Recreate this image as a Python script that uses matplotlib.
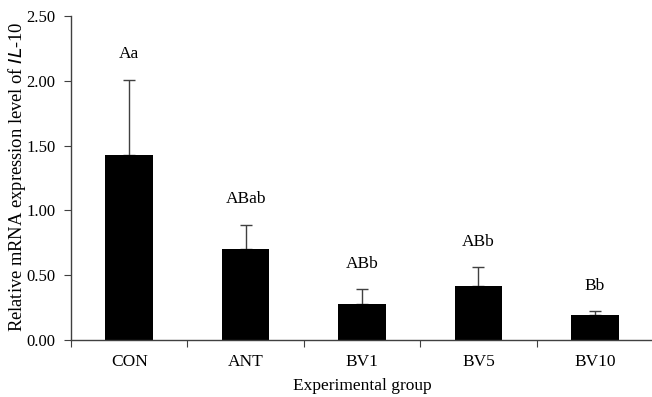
import numpy as np
import matplotlib.pyplot as plt

plt.rcParams['font.family'] = 'Liberation Serif'

groups = ['CON', 'ANT', 'BV1', 'BV5', 'BV10']
expression = [1.43, 0.70, 0.28, 0.42, 0.19]
sd = [0.58, 0.19, 0.11, 0.14, 0.03]
letters = ['Aa', 'ABab', 'ABb', 'ABb', 'Bb']

fig = plt.figure(figsize=(6.52, 3.97), dpi=100)
ax = fig.add_axes([71 / 652, 57 / 397, 582 / 652, 324 / 397])

x = np.arange(len(groups))
ax.bar(x, expression, width=0.41, color='black', zorder=2)
ax.errorbar(x, expression, yerr=[np.zeros(len(sd)), sd], fmt='none',
            ecolor='#404040', elinewidth=1.0, capsize=4, capthick=1.0, zorder=1)

for xi, v, e, lab in zip(x, expression, sd, letters):
    ax.text(xi, v + e + 0.2, lab, ha='center', va='center', fontsize=12.5)

ax.set_xlim(-0.5, len(groups) - 0.5)
ax.set_ylim(0, 2.5)
ax.set_yticks(np.arange(0, 2.51, 0.5))
ax.set_yticklabels(['%.2f' % t for t in np.arange(0, 2.51, 0.5)], fontsize=12)

# category labels centred, tick marks on the group boundaries
ax.set_xticks(np.arange(-0.5, len(groups), 1.0))
ax.set_xticklabels([])
ax.set_xticks(x, minor=True)
ax.set_xticklabels(groups, minor=True, fontsize=12.5)
ax.tick_params(axis='x', which='minor', length=0, pad=10)
ax.tick_params(axis='x', which='major', direction='out', length=5, color='#404040')
ax.tick_params(axis='y', direction='out', length=5, color='#404040', pad=6)

for s in ['top', 'right']:
    ax.spines[s].set_visible(False)
for s in ['left', 'bottom']:
    ax.spines[s].set_color('#404040')
    ax.spines[s].set_linewidth(1.0)

ax.set_xlabel('Experimental group', fontsize=12.5, labelpad=6)
ax.set_ylabel('Relative mRNA expression level of $\\mathit{IL}$-10', fontsize=13.3)
ax.yaxis.set_label_coords(-0.074, 0.505)

fig.savefig('out.png', dpi=100)
